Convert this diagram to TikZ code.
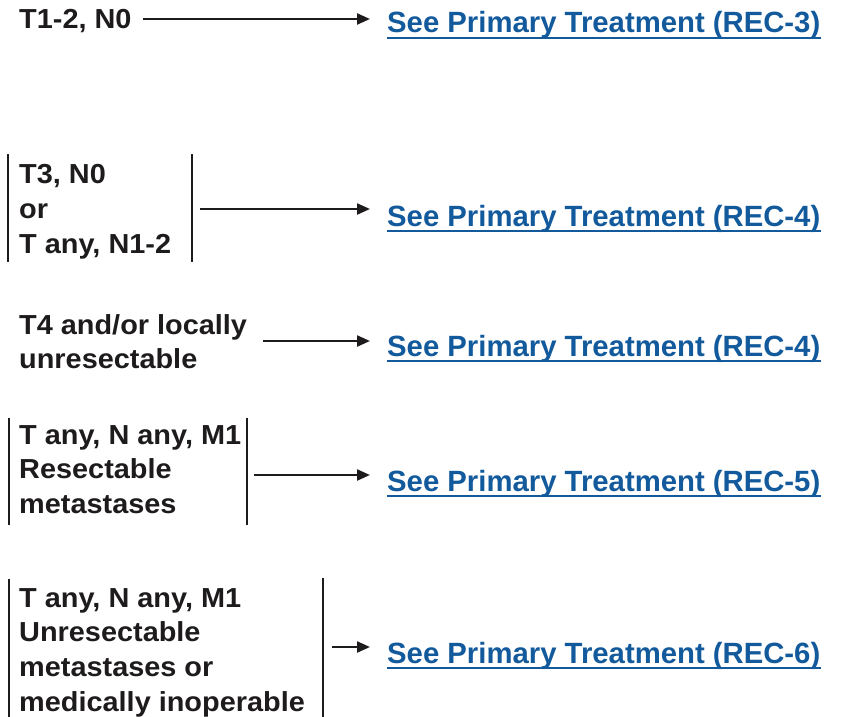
\documentclass[tikz,border=0pt]{standalone}
\usepackage{fontspec}
\setmainfont{Liberation Sans}
\newfontfamily\lblfont[FakeStretch=1.05]{Liberation Sans}
\usetikzlibrary{arrows.meta}
\definecolor{linkblue}{RGB}{18,90,156}
\definecolor{ink}{RGB}{30,27,28}
\begin{document}
\begin{tikzpicture}[x=1pt,y=-1pt,
  lbl/.style={anchor=north west, inner sep=0pt, align=left, text=ink,
    font=\lblfont\bfseries\fontsize{27.5}{34.8}\selectfont},
  link/.style={anchor=base west, inner sep=0pt, text=linkblue,
    font=\bfseries\fontsize{29.3}{34}\selectfont},
  bar/.style={draw=ink, line width=2.5pt},
  arr/.style={draw=ink, line width=2.3pt, -{Triangle[length=13pt,width=11pt]}},
  uline/.style={draw=linkblue, line width=2.5pt}]
\useasboundingbox (0,0) rectangle (846,717);

% Row 1
\node[lbl] (l1) at (19,9.5) {T1-2, N0};
\node[link] (r1) at (387,33) {See Primary Treatment (REC-3)};
\coordinate (s1) at (143,19);
\coordinate (e1) at (370,19);
\draw[arr] (s1) -- (e1);
\draw[uline] ([yshift=-5pt]r1.base west) -- ([yshift=-5pt]r1.base east);

% Row 2
\node[lbl] (l2) at (19,164) {T3, N0\\or\\T any, N1-2};
\coordinate (b2a) at (8,154); \coordinate (b2b) at (8,262);
\coordinate (b2c) at (192,154); \coordinate (b2d) at (192,262);
\draw[bar] (b2a) -- (b2b);
\draw[bar] (b2c) -- (b2d);
\node[link] (r2) at (387,226) {See Primary Treatment (REC-4)};
\coordinate (s2) at (200,209);
\coordinate (e2) at (370,209);
\draw[arr] (s2) -- (e2);
\draw[uline] ([yshift=-5pt]r2.base west) -- ([yshift=-5pt]r2.base east);

% Row 3
\node[lbl] (l3) at (19,314) {T4 and/or locally\\unresectable};
\node[link] (r3) at (387,356) {See Primary Treatment (REC-4)};
\coordinate (s3) at (263,341);
\coordinate (e3) at (370,341);
\draw[arr] (s3) -- (e3);
\draw[uline] ([yshift=-5pt]r3.base west) -- ([yshift=-5pt]r3.base east);

% Row 4
\node[lbl] (l4) at (19,425) {T any, N any, M1\\Resectable\\metastases};
\coordinate (b4a) at (9,418); \coordinate (b4b) at (9,525);
\coordinate (b4c) at (247,418); \coordinate (b4d) at (247,525);
\draw[bar] (b4a) -- (b4b);
\draw[bar] (b4c) -- (b4d);
\node[link] (r4) at (387,491) {See Primary Treatment (REC-5)};
\coordinate (s4) at (254,475);
\coordinate (e4) at (370,475);
\draw[arr] (s4) -- (e4);
\draw[uline] ([yshift=-5pt]r4.base west) -- ([yshift=-5pt]r4.base east);

% Row 5
\node[lbl] (l5) at (19,588) {T any, N any, M1\\Unresectable\\metastases or\\medically inoperable};
\coordinate (b5a) at (9,579); \coordinate (b5b) at (9,717);
\coordinate (b5c) at (323,578); \coordinate (b5d) at (323,717);
\draw[bar] (b5a) -- (b5b);
\draw[bar] (b5c) -- (b5d);
\node[link] (r5) at (387,663) {See Primary Treatment (REC-6)};
\coordinate (s5) at (332,647);
\coordinate (e5) at (370,647);
\draw[arr] (s5) -- (e5);
\draw[uline] ([yshift=-5pt]r5.base west) -- ([yshift=-5pt]r5.base east);
\end{tikzpicture}
\end{document}
